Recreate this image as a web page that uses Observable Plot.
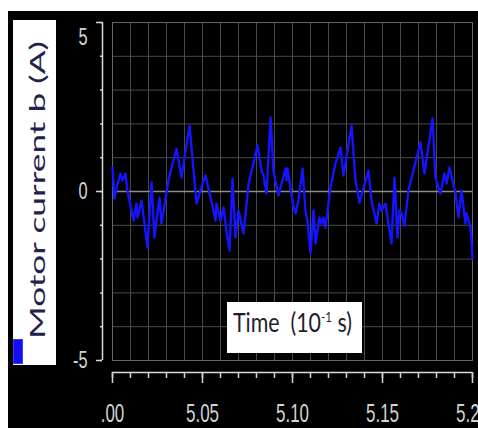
<!DOCTYPE html>
<html><head><meta charset="utf-8">
<script src="https://cdn.jsdelivr.net/npm/d3@7"></script>
<script src="https://cdn.jsdelivr.net/npm/@observablehq/plot@0.6"></script>
<style>
html,body{margin:0;padding:0;background:#fff;}
#wrap{position:relative;width:478px;height:428px;overflow:hidden;}
#bg{position:absolute;left:8px;top:11px;right:0;bottom:0;background:#000;}
#chart{position:absolute;left:0;top:0;}
</style></head><body>
<div id="wrap"><div id="bg"></div><div id="chart"></div></div>
<script>
// time in units of 10^-1 s
const time = [
  5.0000,5.0011,5.0022,5.0044,5.0056,5.0072,5.0083,5.0117,5.0133,5.0139,
  5.0161,5.0178,5.0194,5.0217,5.0233,5.0244,5.0261,5.0272,5.0311,5.0328,
  5.0356,5.0383,5.0428,5.0467,5.0506,5.0517,5.0561,5.0572,5.0578,5.0600,
  5.0617,5.0633,5.0650,5.0667,5.0683,5.0700,5.0728,5.0756,5.0783,5.0806,
  5.0828,5.0839,5.0856,5.0878,5.0894,5.0922,5.0961,5.0967,5.0972,5.1006,
  5.1017,5.1033,5.1056,5.1072,5.1083,5.1100,5.1117,5.1128,5.1150,5.1161,
  5.1172,5.1183,5.1211,5.1239,5.1267,5.1283,5.1328,5.1350,5.1372,5.1422,
  5.1439,5.1467,5.1483,5.1494,5.1517,5.1533,5.1550,5.1567,5.1583,5.1594,
  5.1606,5.1622,5.1644,5.1672,5.1711,5.1733,5.1778,5.1794,5.1822,5.1844,
  5.1856,5.1872,5.1906,5.1922,5.1939,5.1961,5.1967,5.1989,5.2000
];
// motor current b (A)
const current = [
  0.71,-0.21,0.09,0.53,0.33,0.53,0.03,-0.86,-0.36,-0.77,
  -0.27,-0.95,-1.66,0.27,-1.36,-0.86,-0.18,-0.95,0.33,0.71,
  1.27,0.41,1.95,-0.36,0.33,0.47,-0.56,-0.86,-0.36,-0.86,
  -0.47,-1.15,-1.75,0.38,-1.36,-0.56,-1.24,0.24,0.83,1.36,
  0.62,0.47,-0.06,2.19,0.62,-0.12,0.68,0.33,0.68,-0.47,
  -0.65,-0.27,0.68,-0.56,-0.86,-1.83,-0.56,-1.54,-0.77,-0.95,
  -0.77,-1.07,0.12,0.83,1.30,0.47,1.95,0.33,-0.33,0.62,
  -0.27,-0.95,-0.36,-0.56,-0.36,-0.95,-1.54,0.41,-1.36,-0.56,
  -0.65,-1.01,0.03,0.62,1.45,0.53,2.16,0.41,-0.06,0.53,
  0.24,0.71,-0.06,-0.77,0.03,-0.95,-0.65,-1.07,-1.98
];
const yTicks = [-5, 0, 5];
const yMinorTicks = [-5,-4,-3,-2,-1,0,1,2,3,4,5];
const xTicks = [5.00, 5.05, 5.10, 5.15, 5.20];
const xTickText = [".00", "5.05", "5.10", "5.15", "5.20"];
const xMinorTicks = d3.range(0, 21).map(i => +(5 + i * 0.01).toFixed(2));
const yLabel = "Motor current b (A)";
const xLabelMain = "Time  (10";
const xLabelSup = "-1";
const xLabelEnd = " s)";

const data = time.map((t, i) => ({t, v: current[i]}));
const tickFont = "'Liberation Sans',Arial,sans-serif";

const chart = Plot.plot({
  width: 478, height: 428,
  marginLeft: 112, marginRight: 6, marginTop: 22, marginBottom: 68,
  style: {background: "transparent", color: "#d4d4d4", fontFamily: tickFont, overflow: "visible"},
  x: {domain: [5, 5.2]},
  y: {domain: [-5, 5]},
  marks: [
    Plot.gridX({ticks: xMinorTicks, stroke: "#4a4a4a", strokeOpacity: 1}),
    Plot.gridY({ticks: yMinorTicks, stroke: "#4a4a4a", strokeOpacity: 1}),
    Plot.ruleY([0], {stroke: "#8c8c8c", strokeWidth: 1.5}),
    Plot.frame({stroke: "#666"}),
    Plot.line(data, {x: "t", y: "v", stroke: "#1414ff", strokeWidth: 2.4}),
    Plot.ruleX([5], {dx: -10, stroke: "#dcdcdc", strokeWidth: 1.5}),
    Plot.axisY({ticks: yMinorTicks, tickSize: 2, dx: -10, text: null, label: null, strokeWidth: 1.5}),
    Plot.axisY({ticks: yTicks, tickSize: 6, dx: -10, tickPadding: 9, fontSize: 24, label: null, strokeWidth: 1.5,
      tickFormat: d => String(d)}),
    Plot.ruleY([-5], {dy: 12, stroke: "#dcdcdc", strokeWidth: 1.5}),
    Plot.axisX({ticks: xMinorTicks, tickSize: 6, dy: 12, text: null, label: null, strokeWidth: 1.5}),
    Plot.axisX({ticks: xTicks, tickSize: 11, dy: 12, tickPadding: 21, fontSize: 25, label: null, strokeWidth: 1.5,
      tickFormat: d => xTickText[xTicks.findIndex(t => Math.abs(t - d) < 1e-9)]})
  ]
});
document.getElementById("chart").appendChild(chart);

const svg = d3.select(chart);
// condense the tick labels horizontally, as in the reference
svg.selectAll("g[aria-label$='tick label'] text").each(function () {
  const n = this;
  const w = n.getComputedTextLength();
  n.setAttribute("textLength", (w * 0.68).toFixed(1));
  n.setAttribute("lengthAdjust", "spacingAndGlyphs");
  if (n.textContent === "5") n.setAttribute("dy", "0.6em");
});

// overlay boxes: legend (y label) and x label
const ov = svg.append("g").attr("text-anchor", "start");
const labelFont = "Lato,'Open Sans',sans-serif";
ov.append("rect").attr("x", 13).attr("y", 20).attr("width", 43).attr("height", 345).attr("fill", "#fff");
ov.append("rect").attr("x", 13.5).attr("y", 339.5).attr("width", 9).attr("height", 24)
  .attr("fill", "#1010f0").attr("stroke", "#3a3aff");
const lg = ov.append("text").attr("font-family", labelFont).attr("font-size", 21)
  .attr("text-anchor", "start").attr("fill", "#22224a").text(yLabel);
const lw = lg.node().getComputedTextLength();
lg.attr("transform", `translate(45,339) rotate(-90) scale(${298 / lw},1)`);

ov.append("rect").attr("x", 227).attr("y", 302).attr("width", 135).attr("height", 51).attr("fill", "#fff");
const tt = ov.append("text").attr("font-family", labelFont).attr("font-size", 26)
  .attr("text-anchor", "start").attr("fill", "#1e1e2e").style("white-space", "pre");
tt.append("tspan").text(xLabelMain);
tt.append("tspan").attr("font-size", 14).attr("dy", -10).text(xLabelSup);
tt.append("tspan").attr("dy", 10).text(xLabelEnd);
const tw = tt.node().getBBox().width;
tt.attr("transform", `translate(233,332) scale(${119 / tw},1)`);
</script>
</body></html>
